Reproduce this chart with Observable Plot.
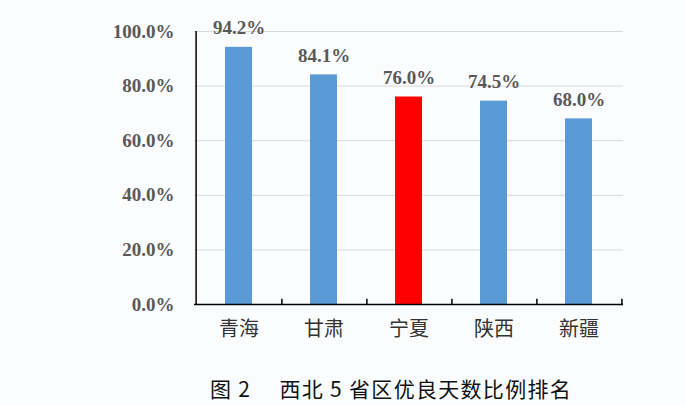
<!DOCTYPE html>
<html>
<head>
<meta charset="utf-8">
<script src="https://cdn.jsdelivr.net/npm/d3@7"></script>
<script src="https://cdn.jsdelivr.net/npm/@observablehq/plot@0.6"></script>
<style>
  html, body { margin: 0; padding: 0; background: #fbfcfe; }
  #wrap { width: 686px; height: 406px; position: relative; overflow: hidden; }
  #caption { position: absolute; left: 0; top: 374px; width: 686px; box-sizing: border-box; padding-left: 96px;
    text-align: center; font-family: "Noto Sans CJK SC", sans-serif; font-size: 21px; color: #111; line-height: 28px; letter-spacing: 1.3px; }
</style>
</head>
<body>
<div id="wrap"><div id="chart"></div><div id="caption">图 2　 西北 5 省区优良天数比例排名</div></div>
<script>
const categories = ["青海", "甘肃", "宁夏", "陕西", "新疆"];
const values = [94.2, 84.1, 76.0, 74.5, 68.0];
const highlight = ["宁夏"];
const yTicks = [0, 20, 40, 60, 80, 100];

const data = categories.map((c, i) => ({cat: c, v: values[i], hi: highlight.includes(c)}));
const W = 686, H = 360, ML = 194, MR = 63, MT = 31, MB = 56;
const step = (W - ML - MR) / categories.length;
const numFont = '"Liberation Serif", "Times New Roman", serif';

const chart = Plot.plot({
  width: W, height: H,
  marginLeft: ML, marginRight: MR, marginTop: MT, marginBottom: MB,
  style: {background: "transparent", overflow: "visible"},
  x: {domain: categories, paddingInner: 0.685, paddingOuter: 0.3425, align: 0.5, label: null},
  y: {domain: [0, 100], label: null},
  marks: [
    Plot.gridY(yTicks, {stroke: "#d9d9d9", strokeOpacity: 1, strokeWidth: 1}),
    Plot.barY(data, {x: "cat", y: "v", fill: d => d.hi ? "#ff0000" : "#5b9bd5"}),
    Plot.ruleY([0], {stroke: "#000", strokeWidth: 1.5}),
    Plot.ruleX([categories[0]], {dx: -step / 2, y1: 0, y2: 100, stroke: "#000", strokeWidth: 1.5}),
    Plot.ruleX(categories, {dx: step / 2, y1: 0, y2: 1.9, stroke: "#000", strokeWidth: 1.5}),
    Plot.tickY(yTicks, {y: d => d, x: categories[0], dx: -step / 2 + 2.5, stroke: "#000", strokeWidth: 1.5}),
    Plot.axisY(yTicks, {tickSize: 0, tickPadding: 20, tickFormat: d => d.toFixed(1) + "%",
      fontSize: 19, fontWeight: "bold", fontFamily: numFont, fill: "#595959"}),
    Plot.axisX({tickSize: 0, tickPadding: 17, fontSize: 20, fontFamily: '"Noto Sans CJK SC", sans-serif', fill: "#333"}),
    Plot.text(data, {x: "cat", y: "v", text: d => d.v.toFixed(1) + "%", dy: -19,
      fontSize: 19, fontWeight: "bold", fontFamily: numFont, fill: "#595959"})
  ]
});
document.getElementById("chart").appendChild(chart);
</script>
</body>
</html>
